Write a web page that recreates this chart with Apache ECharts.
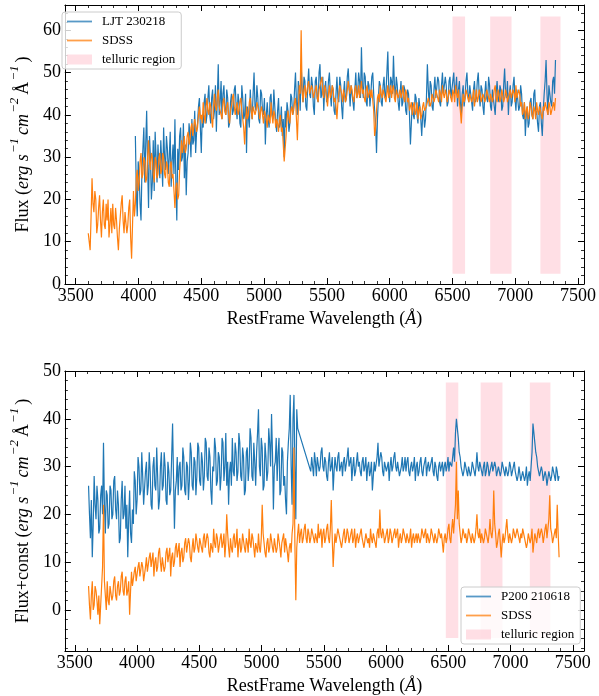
<!DOCTYPE html>
<html>
<head>
<meta charset="utf-8">
<script src="https://cdn.jsdelivr.net/npm/echarts@6/dist/echarts.min.js"></script>
<style>
html, body { margin: 0; padding: 0; background: #fff; }
#chart { width: 599px; height: 696px; }
</style>
</head>
<body>
<div id="chart"></div>
<script>
// spectra are sampled on a regular grid: start wavelength + i * stepA (Angstrom)
const stepA = 7.5

// top panel: LJT 230218 vs SDSS
const ljtStart = 3975
const ljtFlux = [
  35,22,16,29,26,19,15,27,32,37,24,33,41,28,18,35,30,20,24,34,
  22,36,30,24,33,28,25,34,29,23,37,30,27,35,32,26,30,36,23,29,
  33,26,39,24,15,32,27,35,37,29,30,38,25,33,21,29,31,38,35,30,
  39,33,34,41,31,36,38,42,44,37,31,40,37,43,45,38,40,44,47,40,
  38,44,46,39,41,47,36,44,52,40,43,48,39,45,47,41,40,46,44,37,
  38,43,45,40,41,46,47,42,39,45,43,38,37,47,44,39,40,45,31,42,
  42,37,46,41,39,45,50,42,41,47,44,39,38,46,45,41,40,44,33,40,
  43,39,37,44,45,40,39,46,42,38,36,41,44,37,38,42,35,39,30,41,
  37,43,41,36,38,45,44,40,41,46,50,43,40,48,46,41,52,46,43,49,
  48,42,41,47,51,45,44,49,47,42,40,48,49,44,43,50,52,44,45,49,
  41,46,48,43,44,48,50,45,42,47,46,41,40,45,49,44,43,49,47,42,
  39,45,48,43,44,49,51,46,42,47,47,43,41,46,50,44,45,50,48,44,
  56,47,44,50,49,43,42,48,47,42,45,49,50,45,41,38,31,39,44,48,
  47,43,42,47,49,44,45,50,55,46,43,49,48,45,54,47,44,49,47,43,
  41,45,48,42,43,47,46,41,40,46,45,40,33,38,43,40,39,45,44,40,
  38,44,42,39,35,40,41,37,39,44,52,46,42,48,47,42,41,46,49,44,
  44,49,48,43,42,47,50,45,45,49,47,42,43,48,49,44,44,48,50,45,
  46,49,42,46,48,43,40,45,47,42,44,48,50,45,43,47,47,43,41,46,
  48,43,44,48,50,45,42,47,46,42,40,45,48,44,43,49,47,42,41,46,
  46,42,40,45,48,44,43,47,46,41,42,47,51,45,44,48,40,45,47,42,
  43,47,49,44,41,46,46,41,42,47,45,40,39,43,35,40,42,37,38,43,
  44,40,39,45,46,40,41,38,36,42,43,38,35,41,45,48,53,45,40,47,
  47,43,42,48,49,45,53
]
const sdssTopStart = 3600
const sdssTopFlux = [
  12,10,8,16,25,19,17,22,20,12,14,18,21,15,11,17,20,14,13,19,
  15,20,11,14,18,12,19,14,13,18,15,11,8,13,16,19,21,15,12,17,
  17,12,14,18,20,11,6,14,22,16,19,25,27,22,24,29,31,25,26,30,
  29,24,25,30,34,29,27,31,30,26,24,30,29,25,26,30,31,26,27,31,
  30,26,25,29,28,24,23,28,29,25,26,22,18,23,24,20,21,27,30,34,
  31,33,35,31,32,35,36,33,34,37,38,35,35,39,39,36,37,40,42,39,
  40,38,43,40,38,42,44,41,40,43,42,39,37,42,45,42,41,44,46,42,
  42,40,39,43,44,41,40,42,43,40,38,41,42,44,45,42,40,42,43,40,
  41,43,44,41,39,37,33,38,42,39,40,43,44,41,39,42,42,40,41,43,
  43,41,39,41,42,40,38,41,41,39,37,40,40,38,43,40,38,41,40,37,
  39,38,36,39,40,36,37,33,29,32,35,39,41,39,38,41,42,40,40,43,
  44,39,34,41,47,45,60,46,43,46,47,44,44,47,48,45,45,47,46,44,
  44,46,47,44,43,46,46,48,49,45,44,47,46,44,42,45,47,44,45,47,
  46,43,44,42,39,43,45,47,47,45,43,46,46,43,44,46,48,46,45,47,
  46,44,43,46,47,44,45,47,44,46,48,45,46,44,43,46,47,44,45,46,
  44,46,46,41,35,37,41,44,45,43,47,45,44,46,46,44,43,45,47,44,
  45,47,44,46,47,44,43,46,46,44,45,46,44,45,47,44,43,46,45,43,
  44,41,42,43,40,42,43,40,41,43,39,41,42,39,40,42,43,41,41,42,
  42,44,44,42,43,45,45,43,44,46,46,44,43,46,45,43,47,45,44,46,
  45,43,44,46,46,44,43,46,45,43,47,45,44,46,43,41,38,42,45,43,
  44,46,46,44,43,45,45,43,44,46,42,44,46,43,44,46,45,43,43,45,
  45,43,44,46,46,44,43,45,45,43,44,46,47,44,43,46,45,43,44,46,
  46,43,44,46,45,43,43,45,46,44,44,46,45,43,47,44,44,46,45,42,
  43,40,41,43,39,41,42,39,40,43,42,40,39,42,41,39,43,41,40,42,
  42,40,39,42,41,43,43,41,40,43,42,40,41,42,43,41,44
]

// bottom panel: P200 210618 vs SDSS (flux + const), null = gap in P200 data
const p200Start = 3610
const p200Flux = [
  26,20,15,23,11,18,28,22,19,26,23,16,17,24,26,20,35,22,16,25,
  24,17,18,26,25,19,20,27,28,21,19,25,22,14,15,23,27,19,20,26,
  17,22,11,19,25,16,14,21,18,29,27,20,23,32,30,24,25,33,28,22,
  22,29,31,24,26,33,29,22,21,30,32,26,25,34,28,21,23,30,33,25,
  26,33,30,23,22,31,29,24,25,32,39,28,17,25,27,32,24,30,31,25,
  26,34,32,25,24,31,30,23,27,35,33,26,25,32,31,24,28,35,34,27,
  26,33,31,25,28,36,35,28,27,34,32,25,22,30,29,36,34,26,27,33,
  32,25,28,36,35,27,30,37,26,31,22,29,31,26,36,29,28,35,33,27,
  29,37,35,28,27,34,32,24,25,33,34,27,30,38,36,28,27,35,31,26,
  33,37,42,30,28,36,34,25,26,35,32,27,29,38,35,30,41,33,21,30,
  31,36,27,33,36,24,25,34,33,26,28,23,20,31,35,38,45,30,22,40,
  45,30,19,42,38,null,null,null,null,null,null,null,null,null,null,null,null,null,29,32,
  30,28,33,31,28,32,32,29,30,33,34,30,29,32,31,28,27,31,33,29,
  30,32,25,29,32,30,29,32,33,29,30,31,28,31,32,29,29,32,34,30,
  30,32,27,30,32,28,29,31,33,30,31,29,28,31,32,29,30,32,27,30,
  31,28,29,31,25,28,31,29,29,32,35,30,30,33,32,29,28,31,31,29,
  29,31,27,30,32,29,30,32,33,30,29,31,31,28,28,30,32,29,30,32,
  29,31,32,29,28,30,31,29,30,32,27,30,31,28,29,31,32,29,28,30,
  30,32,28,30,31,29,29,31,32,29,28,31,30,28,27,30,31,29,29,31,
  28,30,31,29,30,32,29,31,31,30,32,34,31,37,40,38,36,33,32,30,
  30,28,29,31,31,29,28,30,30,28,29,31,31,29,28,30,33,30,29,31,
  30,29,28,30,31,28,29,31,30,28,28,30,31,29,29,31,30,28,28,30,
  30,28,29,31,31,29,28,30,30,28,29,31,30,28,28,30,31,29,29,27,
  28,30,30,27,27,29,29,27,28,30,26,28,29,27,30,33,39,37,35,33,
  32,30,30,28,28,30,29,27,27,29,28,26,26,29,29,27,28,30,30,28,
  27,30,29,27,28
]
const sdssBotStart = 3610
const sdssBotFlux = [
  5,1,-2,3,6,0,1,5,4,2,-1,3,-3,1,5,9,22,6,3,0,
  6,2,1,5,5,2,3,6,7,3,2,5,6,3,4,7,8,4,3,6,
  7,3,4,6,-1,4,8,5,5,8,9,6,6,9,10,7,7,10,9,6,
  6,9,11,8,8,11,12,9,9,12,7,10,11,8,9,12,13,10,8,11,
  11,8,9,12,13,10,10,13,7,11,12,9,10,13,14,11,11,14,9,12,
  13,10,11,14,15,12,12,15,14,11,10,13,15,12,13,16,16,13,12,15,
  15,13,12,15,16,13,13,16,15,12,11,14,14,12,17,14,13,16,15,12,
  12,15,16,13,14,16,11,14,20,16,13,11,15,13,12,15,16,13,14,17,
  11,14,15,12,13,16,16,13,12,15,14,12,17,14,13,16,15,13,11,14,
  14,12,16,13,12,15,22,16,14,12,11,14,15,12,13,16,16,13,12,15,
  15,12,13,16,16,13,11,14,14,16,12,15,15,12,10,13,14,12,16,18,
  34,14,2,13,16,18,14,16,17,14,15,17,18,15,14,17,16,14,15,17,
  17,15,14,16,16,14,18,15,15,17,13,16,17,14,15,17,18,15,14,17,
  23,15,9,13,16,14,14,17,17,15,15,13,13,16,17,14,15,17,16,14,
  14,16,17,14,15,17,13,15,16,14,14,16,17,15,15,13,13,16,16,14,
  15,13,17,15,14,16,16,14,13,16,17,15,21,16,15,17,16,14,14,16,
  17,14,15,17,16,14,14,16,17,15,15,17,13,15,16,14,15,17,17,15,
  14,16,16,14,15,17,13,15,16,14,15,16,14,16,16,14,15,17,17,15,
  15,17,14,16,16,14,15,17,17,15,14,16,16,14,15,17,17,15,16,14,
  12,15,16,14,15,17,18,15,14,17,19,16,16,22,31,19,25,18,16,14,
  15,17,17,15,16,14,15,17,16,15,14,16,16,14,15,17,20,16,15,17,
  14,16,16,14,15,17,17,15,14,16,19,16,15,17,25,18,16,13,14,16,
  17,14,11,14,16,14,15,17,19,16,14,16,16,14,15,17,17,15,15,17,
  16,15,14,16,15,17,17,15,15,13,14,16,16,14,15,17,12,14,16,15,
  14,16,17,15,15,17,16,14,14,17,18,15,15,19,24,17,16,14,14,16,
  17,15,22,16,11
]

// telluric bands (wavelength ranges) and their vertical extent
const telluricTop = [[6500, 6600], [6800, 6970], [7200, 7360]]
const telluricTopY = [2.4, 63.3]
const telluricBot = [[6480, 6580], [6760, 6935], [7155, 7320]]
const telluricBotY = [-5.9, 47.6]

// tick labels
const xMajor = [3500, 4000, 4500, 5000, 5500, 6000, 6500, 7000, 7500]
const yTopMajor = [0, 10, 20, 30, 40, 50, 60]
const yBotMajor = [0, 10, 20, 30, 40, 50]

const serif = '"Liberation Serif", "DejaVu Serif", serif'
const blue = '#1f77b4'
const orange = '#ff7f0e'
const pink = 'rgba(255,192,203,0.5)'
const lineIcon = 'path://M0,0L25,0L25,1.8L0,1.8Z'

function steps(from, to, by) {
  const out = []
  for (let v = from; v <= to + 1e-9; v += by) out.push(v)
  return out
}
const xMinor = steps(3400, 7600, 100)

const toPairs = (start, vals) => vals.map((v, i) => [start + i * stepA, v])
const bands = (list, yr) => list.map(b => [{xAxis: b[0], yAxis: yr[0]}, {xAxis: b[1], yAxis: yr[1]}])
const plain = v => String(v)

const frame = {show: true, onZero: false, lineStyle: {color: '#000', width: 1}}
const noLine = {show: false, onZero: false}

function majorTick(vals) {
  return {show: true, inside: true, length: 6, customValues: vals, lineStyle: {color: '#000', width: 1}}
}
function minorTick(vals) {
  return {show: true, inside: true, length: 3, customValues: vals, lineStyle: {color: '#000', width: 0.8}}
}

function buildX(grid, min, max) {
  const minors = xMinor.filter(v => v > min && v < max)
  const base = {type: 'value', gridIndex: grid, min: min, max: max, splitLine: {show: false}}
  return [
    Object.assign({}, base, {
      position: 'bottom', axisLine: frame, axisTick: majorTick(xMajor),
      axisLabel: {customValues: xMajor, formatter: plain, margin: 3, color: '#000', fontFamily: serif, fontSize: 18},
      name: 'RestFrame Wavelength ({i|Å})', nameLocation: 'middle', nameGap: 26,
      nameTextStyle: {color: '#000', fontFamily: serif, fontSize: 18,
        rich: {i: {fontFamily: serif, fontSize: 18, fontStyle: 'italic', color: '#000'}}}
    }),
    Object.assign({}, base, {position: 'bottom', axisLine: noLine, axisTick: minorTick(minors), axisLabel: {show: false}}),
    Object.assign({}, base, {position: 'top', axisLine: frame, axisTick: majorTick(xMajor), axisLabel: {show: false}}),
    Object.assign({}, base, {position: 'top', axisLine: noLine, axisTick: minorTick(minors), axisLabel: {show: false}})
  ]
}

const nameRich = {
  n: {fontFamily: serif, fontSize: 18, color: '#000', lineHeight: 24, verticalAlign: 'bottom'},
  i: {fontFamily: serif, fontSize: 18, fontStyle: 'italic', color: '#000', lineHeight: 24, verticalAlign: 'bottom'},
  s: {fontFamily: serif, fontSize: 13, fontStyle: 'italic', color: '#000', lineHeight: 17, verticalAlign: 'top', padding: [0, 3, 0, 1]}
}

function buildY(grid, min, max, majors, prefix) {
  const minors = steps(Math.ceil(min / 2) * 2, max, 2).filter(v => v > min && v < max)
  const base = {type: 'value', gridIndex: grid, min: min, max: max, splitLine: {show: false}}
  return [
    Object.assign({}, base, {
      position: 'left', axisLine: frame, axisTick: majorTick(majors),
      axisLabel: {customValues: majors, formatter: plain, margin: 4, color: '#000', fontFamily: serif, fontSize: 18},
      name: '{n|' + prefix + ' (}{i|erg s}{s|−1}{i|cm}{s|−2}{n|Å}{s|−1}{n|)}',
      nameLocation: 'middle', nameGap: 24,
      nameTextStyle: {color: '#000', fontFamily: serif, fontSize: 18, rich: nameRich}
    }),
    Object.assign({}, base, {position: 'left', axisLine: noLine, axisTick: minorTick(minors), axisLabel: {show: false}}),
    Object.assign({}, base, {position: 'right', axisLine: frame, axisTick: majorTick(majors), axisLabel: {show: false}}),
    Object.assign({}, base, {position: 'right', axisLine: noLine, axisTick: minorTick(minors), axisLabel: {show: false}})
  ]
}

function spectrum(name, color, xi, start, vals, z) {
  return {
    name: name, type: 'line', xAxisIndex: xi, yAxisIndex: xi,
    data: toPairs(start, vals), symbol: 'none', connectNulls: true,
    lineStyle: {color: color, width: 1.2}, itemStyle: {color: color},
    silent: true, z: z
  }
}

function telluric(xi, list, yr) {
  return {
    name: 'telluric region', type: 'line', xAxisIndex: xi, yAxisIndex: xi,
    data: [], symbol: 'none', itemStyle: {color: pink}, lineStyle: {color: pink}, z: 1,
    markArea: {silent: true, itemStyle: {color: pink, borderWidth: 0}, data: bands(list, yr)}
  }
}

function legendBox(left, top, first) {
  return {
    orient: 'vertical', left: left, top: top, selectedMode: false,
    itemWidth: 25, itemHeight: 10, itemGap: 6, padding: [3, 6, 3, 5],
    borderColor: '#cccccc', borderWidth: 1, borderRadius: 3,
    backgroundColor: 'rgba(255,255,255,0.8)',
    textStyle: {fontFamily: serif, fontSize: 13, color: '#000', padding: [0, 0, 0, 5]},
    data: [
      {name: first, icon: lineIcon, itemStyle: {color: blue, opacity: 0.75}},
      {name: 'SDSS', icon: lineIcon, itemStyle: {color: orange, opacity: 0.75}},
      {name: 'telluric region', icon: 'rect', itemStyle: {color: pink}}
    ]
  }
}

const chart = echarts.init(document.getElementById('chart'), null, {renderer: 'canvas'})

chart.setOption({
  animation: false,
  backgroundColor: '#fff',
  grid: [
    {left: 55, top: 5, width: 529, height: 279},
    {left: 55, top: 371, width: 529, height: 280}
  ],
  xAxis: buildX(0, 3414, 7547).concat(buildX(1, 3420, 7590)),
  yAxis: buildY(0, 0, 66, yTopMajor, 'Flux').concat(buildY(1, -8.6, 50, yBotMajor, 'Flux+const')),
  legend: [legendBox(62, 12, 'LJT 230218'), legendBox(461, 587, 'P200 210618')],
  series: [
    telluric(0, telluricTop, telluricTopY),
    spectrum('LJT 230218', blue, 0, ljtStart, ljtFlux, 2),
    spectrum('SDSS', orange, 0, sdssTopStart, sdssTopFlux, 3),
    telluric(4, telluricBot, telluricBotY),
    spectrum('P200 210618', blue, 4, p200Start, p200Flux, 2),
    spectrum('SDSS', orange, 4, sdssBotStart, sdssBotFlux, 3)
  ]
})
</script>
</body>
</html>
